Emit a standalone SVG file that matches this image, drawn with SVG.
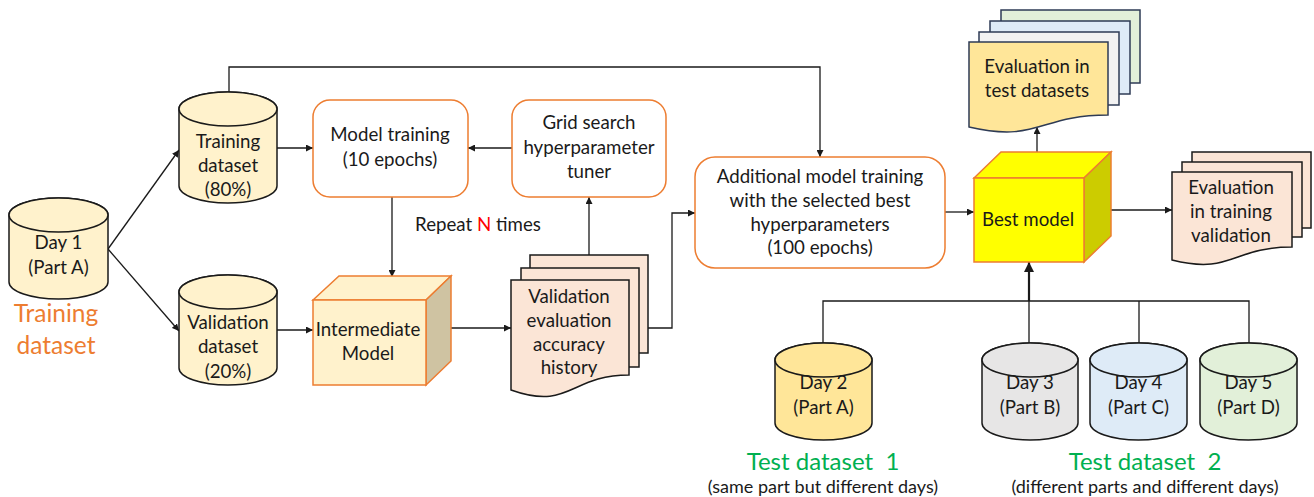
<svg xmlns="http://www.w3.org/2000/svg" width="1314" height="497" viewBox="0 0 1314 497">
<style>
text{font-family:Lato,"Open Sans","Liberation Sans",sans-serif;fill:#1a1a1a;text-anchor:middle;font-size:18.7px}
.cyl{stroke:#1a1a1a;stroke-width:1.5}
.box{fill:#fff;stroke:#ED7D31;stroke-width:1.5}
.doc{stroke:#1a1a1a;stroke-width:1.5}
.docb{stroke:#2E3B55;stroke-width:1.5}
.c{fill:none;stroke:#1a1a1a;stroke-width:1.3}
.big{font-size:24.5px;fill:#ED7D31}
.grn{font-size:24px;fill:#00B050}
.sm{font-size:18px}
</style>
<defs>
<marker id="ah" viewBox="0 0 10 10" refX="10" refY="5" markerWidth="7" markerHeight="7" orient="auto" markerUnits="userSpaceOnUse">
<path d="M0,0 L10,5 L0,10 Z" fill="#1a1a1a"/>
</marker>
<marker id="ah2" viewBox="0 0 10 10" refX="10" refY="5" markerWidth="10" markerHeight="10" orient="auto" markerUnits="userSpaceOnUse">
<path d="M0,0 L10,5 L0,10 Z" fill="#1a1a1a"/>
</marker>
</defs>

<g id="connectors">
<path class="c" d="M108,249 L179,150" marker-end="url(#ah)"/>
<path class="c" d="M108,249 L179,331" marker-end="url(#ah)"/>
<path class="c" d="M277,148 H313" marker-end="url(#ah)"/>
<path class="c" d="M277,330 H313" marker-end="url(#ah)"/>
<path class="c" d="M512,148 H468" marker-end="url(#ah)"/>
<path class="c" d="M392,197 V277" marker-end="url(#ah)"/>
<path class="c" d="M443,328 H511" marker-end="url(#ah)"/>
<path class="c" d="M589,255 V197" marker-end="url(#ah)"/>
<path class="c" d="M648,328 H672 V213 H695" marker-end="url(#ah)"/>
<path class="c" d="M229,92 V67 H820 V157" marker-end="url(#ah)"/>
<path class="c" d="M945,212 H974" marker-end="url(#ah)"/>
<path class="c" d="M1037,158 V127" marker-end="url(#ah)"/>
<path class="c" d="M1111,210 H1172" marker-end="url(#ah)"/>
<path class="c" d="M823,343 V301 H1249 V343 M1029,301 V343 M1139,301 V343"/>
<path class="c" style="stroke-width:2.2" d="M1029,301 V262" marker-end="url(#ah2)"/>
</g>

<g id="day1">
<path class="cyl" fill="#FFF2CC" d="M9,215 V282 A49.5,17 0 0 0 108,282 V215 A49.5,17 0 0 0 9,215 Z"/>
<ellipse class="cyl" fill="#FFF2CC" cx="58.5" cy="215" rx="49.5" ry="17"/>
<text x="58.5" y="249">Day 1</text>
<text x="58.5" y="274">(Part A)</text>
<text class="big" x="56" y="322">Training</text>
<text class="big" x="56" y="354">dataset</text>
</g>

<g id="training">
<path class="cyl" fill="#FFF2CC" d="M179,109 V186 A49,17 0 0 0 277,186 V109 A49,17 0 0 0 179,109 Z"/>
<ellipse class="cyl" fill="#FFF2CC" cx="228" cy="109" rx="49" ry="17"/>
<text x="228" y="148">Training</text>
<text x="228" y="172">dataset</text>
<text x="228" y="196">(80%)</text>
</g>

<g id="validation">
<path class="cyl" fill="#FFF2CC" d="M179,292 V368 A49,17 0 0 0 277,368 V292 A49,17 0 0 0 179,292 Z"/>
<ellipse class="cyl" fill="#FFF2CC" cx="228" cy="292" rx="49" ry="17"/>
<text x="228" y="329">Validation</text>
<text x="228" y="353">dataset</text>
<text x="228" y="378">(20%)</text>
</g>

<g id="modeltraining">
<rect class="box" x="313" y="100" width="155" height="97" rx="17"/>
<text x="390" y="141">Model training</text>
<text x="390" y="166">(10 epochs)</text>
</g>

<g id="gridsearch">
<rect class="box" x="512" y="100" width="154" height="97" rx="17"/>
<text x="589" y="129">Grid search</text>
<text x="589" y="154">hyperparameter</text>
<text x="589" y="178">tuner</text>
</g>

<g id="repeat">
<text x="478" y="231">Repeat <tspan fill="#FF0000">N</tspan> times</text>
</g>

<g id="intermediate">
<path d="M313,300 L339,276 H451 L426,300 Z" fill="#FFF2CC" stroke="#ED7D31" stroke-width="1.5"/>
<path d="M426,300 L451,276 V361 L426,385 Z" fill="#CFC3A2" stroke="#ED7D31" stroke-width="1.5"/>
<rect x="313" y="300" width="113" height="85" fill="#FFF2CC" stroke="#ED7D31" stroke-width="1.5"/>
<text x="368" y="336">Intermediate</text>
<text x="368" y="360">Model</text>
</g>

<g id="valhistory">
<rect class="doc" x="530" y="255" width="118" height="98" fill="#FBE5D6"/>
<rect class="doc" x="521" y="268" width="118" height="99" fill="#FBE5D6"/>
<path class="doc" fill="#FBE5D6" d="M511,280 H629 V375 C570,375 570,411 511,390 Z"/>
<text x="569" y="303">Validation</text>
<text x="569" y="327">evaluation</text>
<text x="569" y="351">accuracy</text>
<text x="569" y="374">history</text>
</g>

<g id="additional">
<rect class="box" x="695" y="157" width="250" height="111" rx="20"/>
<text x="820" y="183">Additional model training</text>
<text x="820" y="207">with the selected best</text>
<text x="820" y="231">hyperparameters</text>
<text x="820" y="254">(100 epochs)</text>
</g>

<g id="bestmodel">
<path d="M974,178 L1001,152 H1111 L1084,178 Z" fill="#FFFF00" stroke="#ED7D31" stroke-width="1.5"/>
<path d="M1084,178 L1111,152 V236 L1084,262 Z" fill="#CCCC00" stroke="#ED7D31" stroke-width="1.5"/>
<rect x="974" y="178" width="110" height="84" fill="#FFFF00" stroke="#ED7D31" stroke-width="1.5"/>
<text x="1028" y="226">Best model</text>
</g>

<g id="evaltest">
<rect class="docb" x="1001" y="10" width="139" height="73" fill="#E2F0D9"/>
<rect class="docb" x="990" y="21" width="140" height="73" fill="#DEEBF7"/>
<rect class="docb" x="979" y="32" width="140" height="73" fill="#F2F2F2"/>
<path class="docb" fill="#FFE699" d="M969,42 H1108 V115 C1038.5,115 1038.5,143 969,127 Z"/>
<text x="1037" y="73">Evaluation in</text>
<text x="1037" y="97">test datasets</text>
</g>

<g id="evaltrain">
<rect class="doc" x="1192" y="152" width="119" height="76" fill="#FBE5D6"/>
<rect class="doc" x="1182" y="162" width="120" height="75" fill="#FBE5D6"/>
<path class="doc" fill="#FBE5D6" d="M1172,172 H1292 V247 C1232,247 1232,275 1172,260 Z"/>
<text x="1231" y="194">Evaluation</text>
<text x="1231" y="218">in training</text>
<text x="1231" y="242">validation</text>
</g>

<g id="day2">
<path class="cyl" fill="#FFE699" d="M775,360 V423 A48.5,17 0 0 0 872,423 V360 A48.5,17 0 0 0 775,360 Z"/>
<ellipse class="cyl" fill="#FFE699" cx="823.5" cy="360" rx="48.5" ry="17"/>
<text x="823.5" y="389">Day 2</text>
<text x="823.5" y="414">(Part A)</text>
<text class="grn" x="823" y="470">Test dataset&#160; 1</text>
<text class="sm" x="823" y="493">(same part but different days)</text>
</g>

<g id="day3">
<path class="cyl" fill="#E7E6E6" d="M982,360 V423 A48,17 0 0 0 1078,423 V360 A48,17 0 0 0 982,360 Z"/>
<ellipse class="cyl" fill="#E7E6E6" cx="1030" cy="360" rx="48" ry="17"/>
<text x="1030" y="389">Day 3</text>
<text x="1030" y="414">(Part B)</text>
</g>

<g id="day4">
<path class="cyl" fill="#DEEBF7" d="M1090,360 V423 A48.5,17 0 0 0 1187,423 V360 A48.5,17 0 0 0 1090,360 Z"/>
<ellipse class="cyl" fill="#DEEBF7" cx="1138.5" cy="360" rx="48.5" ry="17"/>
<text x="1138.5" y="389">Day 4</text>
<text x="1138.5" y="414">(Part C)</text>
</g>

<g id="day5">
<path class="cyl" fill="#E2F0D9" d="M1200,360 V423 A48.5,17 0 0 0 1297,423 V360 A48.5,17 0 0 0 1200,360 Z"/>
<ellipse class="cyl" fill="#E2F0D9" cx="1248.5" cy="360" rx="48.5" ry="17"/>
<text x="1248.5" y="389">Day 5</text>
<text x="1248.5" y="414">(Part D)</text>
<text class="grn" x="1145" y="470">Test dataset&#160; 2</text>
<text class="sm" x="1145" y="493">(different parts and different days)</text>
</g>
</svg>
